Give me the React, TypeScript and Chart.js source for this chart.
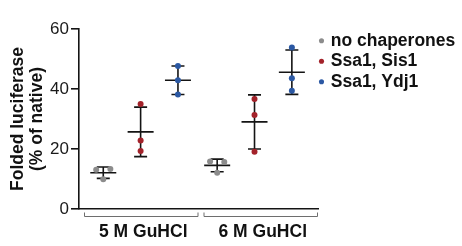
import React, { useEffect, useRef } from 'react';
import { Chart, registerables } from 'chart.js';

Chart.register(...registerables);

// ---------- data ----------
const groupLabels = ['5 M GuHCl', '6 M GuHCl'];
const seriesLabels = ['no chaperones', 'Ssa1, Sis1', 'Ssa1, Ydj1'];
const seriesColors = ['#8c8c8c', '#a3222a', '#2b58a3'];
// replicate values per group: [5 M GuHCl], [6 M GuHCl]
const noChaperones = [[13.1, 13.3, 9.9], [15.8, 15.7, 12.1]];
const ssa1Sis1 = [[35.0, 22.8, 19.3], [36.7, 31.3, 19.1]];
const ssa1Ydj1 = [[47.7, 42.9, 38.2], [53.8, 43.6, 39.4]];
const yMin = 0;
const yMax = 60;
const yStep = 20;
const yTitle = ['Folded luciferase', '(% of native)'];

const seriesValues = [noChaperones, ssa1Sis1, ssa1Ydj1];

// ---------- layout helpers ----------
const GROUP_GAP = 0.05;
const slotOf = (g: number, s: number) => g * (seriesLabels.length + GROUP_GAP) + s;

// spread overlapping replicates (GraphPad-like scatter)
function jitter(vals: number[]): number[] {
  return vals.map((v, i) => {
    const cluster = vals
      .map((w, j) => ({ w, j }))
      .filter(o => Math.abs(o.w - v) < 2)
      .sort((a, b) => a.j - b.j);
    if (cluster.length < 2) return 0;
    const rank = cluster.findIndex(o => o.j === i);
    return (rank - (cluster.length - 1) / 2) * 0.38;
  });
}

const mean = (a: number[]) => a.reduce((p, c) => p + c, 0) / a.length;
const sd = (a: number[]) => {
  const m = mean(a);
  return Math.sqrt(a.reduce((p, c) => p + (c - m) ** 2, 0) / (a.length - 1));
};

const FONT = 'Arial, "Liberation Sans", Helvetica, sans-serif';

const errorBarPlugin = {
  id: 'errorBars',
  beforeDatasetsDraw(chart: any) {
    const { ctx, scales } = chart;
    const xs = scales.x;
    const ys = scales.y;
    ctx.save();
    ctx.strokeStyle = '#141414';
    ctx.lineWidth = 1.6;
    seriesValues.forEach((groups, s) => {
      groups.forEach((vals, g) => {
        const m = mean(vals);
        const d = sd(vals);
        const x = xs.getPixelForValue(slotOf(g, s));
        const yTop = ys.getPixelForValue(m + d);
        const yBot = ys.getPixelForValue(m - d);
        const yM = ys.getPixelForValue(m);
        ctx.beginPath();
        ctx.moveTo(x, yTop);
        ctx.lineTo(x, yBot);
        ctx.moveTo(x - 6.5, yTop);
        ctx.lineTo(x + 6.5, yTop);
        ctx.moveTo(x - 6.5, yBot);
        ctx.lineTo(x + 6.5, yBot);
        ctx.moveTo(x - 13, yM);
        ctx.lineTo(x + 13, yM);
        ctx.stroke();
      });
    });
    ctx.restore();
  },
};

const groupBracketPlugin = {
  id: 'groupBrackets',
  afterDraw(chart: any) {
    const { ctx, chartArea } = chart;
    const n = groupLabels.length;
    const gap = 5;
    const start = chartArea.left + 5;
    const total = chartArea.right - start;
    const segW = (total - gap * (n - 1)) / n;
    const y = chartArea.bottom + 7.5;
    ctx.save();
    groupLabels.forEach((label, g) => {
      const x0 = start + g * (segW + gap);
      const x1 = x0 + segW;
      ctx.strokeStyle = '#6e6e6e';
      ctx.lineWidth = 1;
      ctx.beginPath();
      ctx.moveTo(x0 + 0.5, y - 4);
      ctx.lineTo(x0 + 0.5, y);
      ctx.lineTo(x1 - 0.5, y);
      ctx.lineTo(x1 - 0.5, y - 4);
      ctx.stroke();
      ctx.fillStyle = '#111';
      ctx.font = `bold 17.5px ${FONT}`;
      ctx.textAlign = 'center';
      ctx.textBaseline = 'middle';
      ctx.fillText(label, (x0 + x1) / 2 + 2, chartArea.bottom + 23);
    });
    ctx.restore();
  },
};

export default function App() {
  const ref = useRef<HTMLCanvasElement | null>(null);

  useEffect(() => {
    if (!ref.current) return;
    const datasets = seriesLabels.map((label, s) => ({
      label,
      data: seriesValues[s].flatMap((vals, g) => {
        const off = jitter(vals);
        return vals.map((v, i) => ({ x: slotOf(g, s) + off[i], y: v }));
      }),
      backgroundColor: seriesColors[s],
      borderColor: seriesColors[s],
      borderWidth: 0,
      pointRadius: 3,
      pointBorderWidth: 0,
      pointStyle: 'circle',
      showLine: false,
    }));

    const chart = new Chart(ref.current, {
      type: 'scatter',
      data: { datasets },
      plugins: [errorBarPlugin, groupBracketPlugin],
      options: {
        animation: false,
        responsive: false,
        layout: { padding: { top: 29, left: 0, bottom: 0, right: 0 } },
        plugins: {
          tooltip: { enabled: false },
          legend: {
            position: 'right',
            align: 'start',
            fullSize: false,
            maxWidth: 144,
            labels: {
              usePointStyle: true,
              boxWidth: 1,
              boxHeight: 3.6,
              padding: 3,
              color: '#111',
              font: { family: FONT, size: 17.5, weight: 'bold' },
            },
          },
        },
        scales: {
          x: {
            type: 'linear',
            min: -0.65,
            max: 5.75,
            ticks: { display: false },
            grid: { display: false },
            border: { display: true, color: '#141414', width: 1.6 },
            afterFit: (scale: any) => {
              scale.height = 37;
            },
          },
          y: {
            min: yMin,
            max: yMax,
            ticks: {
              stepSize: yStep,
              color: '#1a1a1a',
              padding: 2,
              font: { family: FONT, size: 17 },
            },
            grid: {
              drawOnChartArea: false,
              drawTicks: true,
              tickLength: 8,
              color: '#141414',
              lineWidth: 1.6,
            },
            border: { display: true, color: '#141414', width: 1.6 },
            title: {
              display: true,
              text: yTitle,
              color: '#111',
              padding: { top: 8.4, bottom: 0 },
              font: { family: FONT, size: 17.5, weight: 'bold', lineHeight: 1.1 },
            },
            afterFit: (scale: any) => {
              scale.width = 79;
            },
          },
        },
      },
    } as any);
    return () => chart.destroy();
  }, []);

  return (
    <div style={{ position: 'fixed', left: 0, top: 0, width: 462, height: 246, background: '#fff' }}>
      <canvas ref={ref} width={462} height={246} style={{ display: 'block' }} />
    </div>
  );
}
